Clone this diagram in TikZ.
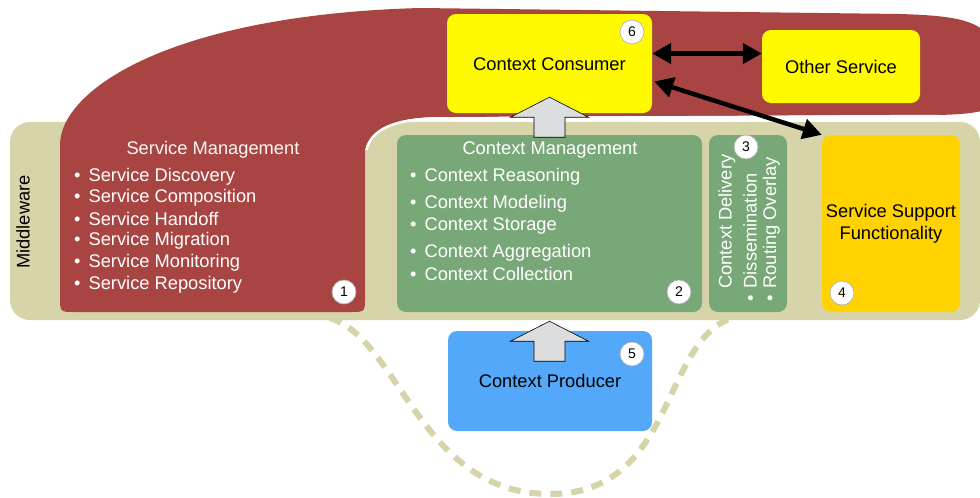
\documentclass[tikz,border=0pt]{standalone}
\usepackage{fontspec}
\setmainfont{Liberation Sans}
\usetikzlibrary{arrows.meta,calc}
\definecolor{redc}{HTML}{A84542}
\definecolor{tanc}{HTML}{D6D4A8}
\definecolor{greenc}{HTML}{78A878}
\definecolor{yellowc}{HTML}{FFFA00}
\definecolor{goldc}{HTML}{FFD200}
\definecolor{bluec}{HTML}{53A8F9}
\definecolor{grayarrow}{HTML}{DCDDDF}
\begin{document}
\begin{tikzpicture}[x=1pt,y=-1pt,
  box/.style={rounded corners=9pt, inner sep=0pt, align=center},
  lowtext/.style={text height=17.5pt, text depth=3.8pt},
  lbl/.style={font=\fontsize{18.3}{22}\selectfont},
  wlbl/.style={lbl, text=white, anchor=west, inner sep=0pt},
  num/.style={circle, fill=white, draw=gray!60, line width=0.7pt, minimum size=24pt, inner sep=0pt, font=\fontsize{14}{14}\selectfont},
  dbl/.style={line width=4.5pt, {Triangle[length=19pt,width=20pt]}-{Triangle[length=19pt,width=20pt]}},
  blk/.style={draw=black, line width=0.6pt, fill=grayarrow, line join=miter},
  uparrow/.pic={\draw[blk] (-15.5,40) -- (-15.5,20) -- (-39,20) -- (0,0) -- (39,20) -- (15.5,20) -- (15.5,40) -- cycle;}]
\path[use as bounding box] (0,0) rectangle (980,498);
% dashed loop
\draw[tanc, line width=6pt, dash pattern=on 12pt off 9pt]
  (330,318) .. controls (400,340) and (420,494) .. (550,494)
  .. controls (680,494) and (660,330) .. (740,316);
% middleware background
\fill[tanc, rounded corners=20pt] (10,122) rectangle (980,320);
% red blob (service management)
\fill[redc] (60,145) .. controls (60,90) and (170,15) .. (420,8) -- (900,14)
  .. controls (960,16) and (995,20) .. (995,60) -- (995,100)
  .. controls (995,112) and (970,114) .. (940,115) -- (435,117)
  .. controls (395,118) and (370,128) .. (365,150) -- (365,297)
  .. controls (365,312) .. (350,312) -- (75,312)
  .. controls (60,312) .. (60,297) -- cycle;
\draw[white, line width=2.5pt] (940,116) -- (435,118.5) .. controls (395,119.5) and (371,129) .. (366.5,150);
% boxes
\node[box, fill=yellowc, minimum width=205pt, minimum height=99pt, lbl, lowtext] (cons) at (549.5,63.5) {Context Consumer};
\node[box, fill=yellowc, minimum width=158pt, minimum height=73pt, lbl, lowtext] (other) at (841,66.5) {Other Service};
\node[box, fill=greenc, minimum width=305pt, minimum height=177pt] (cm) at (549.5,223.5) {};
\node[box, fill=greenc, minimum width=78pt, minimum height=177pt] (cd) at (748,223.5) {};
\node[box, fill=goldc, minimum width=138pt, minimum height=177pt, lbl] (ssf) at (891,223.5) {Service Support\\Functionality};
\node[box, fill=bluec, minimum width=204pt, minimum height=100pt, lbl, lowtext] (prod) at (550,381) {Context Producer};
% middleware label
\node[lbl, rotate=90] (mw) at (23,222) {Middleware};
% service management text
\node[lbl, text=white!95!redc] (smt) at (213,150) {Service Management};
\foreach \t/\y [count=\i] in {Service Discovery/177,Service Composition/198,Service Handoff/219,Service Migration/241,Service Monitoring/263,Service Repository/285}{
  \node[wlbl] (sm\i) at (74,\y) {\textbullet\hspace{8pt}\t};
}
% context management text
\node[lbl, text=white] (cmt) at (550,150) {Context Management};
\foreach \t/\y [count=\i] in {Context Reasoning/177,Context Modeling/204,Context Storage/226,Context Aggregation/253,Context Collection/274}{
  \node[wlbl] (cm\i) at (410,\y) {\textbullet\hspace{8pt}\t};
}
% context delivery text
\node[wlbl, rotate=90] (cdt) at (727,289) {Context Delivery};
\node[wlbl, rotate=90] (cd1) at (750,302) {\textbullet\hspace{7pt}Dissemination};
\node[wlbl, rotate=90] (cd2) at (771.5,302) {\textbullet\hspace{7pt}Routing Overlay};
% numbers
\node[num] (n1) at (344,292) {1};
\node[num] (n2) at (679,292) {2};
\node[num] (n3) at (746,147) {3};
\node[num] (n4) at (842,293) {4};
\node[num] (n5) at (632,354) {5};
\node[num] (n6) at (632,32) {6};
% block arrows
\pic at ([yshift=16pt]cons.south) {uparrow};
\pic at ([yshift=-9pt]cm.south) {uparrow};
% double arrows
\draw[dbl] ([yshift=10pt]cons.east) -- ([yshift=13pt]other.west);
\draw[dbl] ([yshift=-18pt,xshift=2pt]cons.east) -- (ssf.north west);
\end{tikzpicture}
\end{document}
